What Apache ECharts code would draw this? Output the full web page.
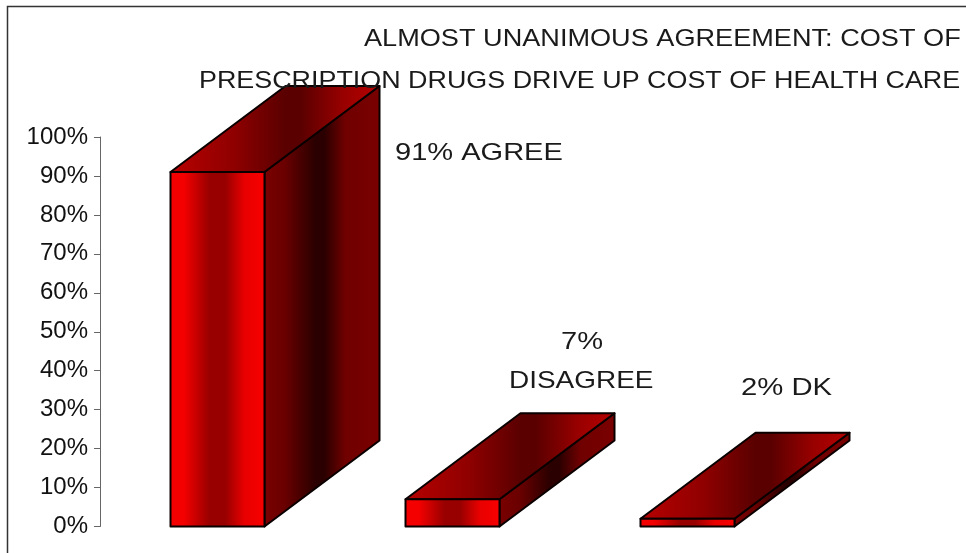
<!DOCTYPE html>
<html><head><meta charset="utf-8">
<style>html,body{margin:0;padding:0;background:#fff}#c{width:966px;height:553px}</style>
<script src="https://cdn.jsdelivr.net/npm/echarts@6/dist/echarts.min.js"></script>
</head><body><div id="c"></div>
<script>
var categories = ['AGREE', 'DISAGREE', 'DK'];
var values = [91, 7, 2];
var titleLines = ['ALMOST UNANIMOUS AGREEMENT: COST OF', 'PRESCRIPTION DRUGS DRIVE UP COST OF HEALTH CARE'];
var dataLabels = ['91% AGREE', '7%', 'DISAGREE', '2% DK'];

var DEPTH_X = 115, DEPTH_Y = 86;
function grad(stops){ return new echarts.graphic.LinearGradient(0,0,1,0,stops.map(function(s){return {offset:s[0],color:s[1]};})); }
var frontFill = grad([[0,'#f40000'],[0.15,'#f40000'],[0.42,'#980000'],[0.58,'#980000'],[0.78,'#e80000'],[1,'#f80000']]);
var sideFill = grad([[0,'#7a0000'],[0.18,'#6a0000'],[0.44,'#2b0000'],[0.52,'#2b0000'],[0.7,'#700000'],[1,'#7a0000']]);
var topFill = grad([[0,'#b80000'],[0.3,'#900000'],[0.55,'#5a0000'],[0.62,'#5a0000'],[0.82,'#980000'],[1,'#b80000']]);
var edge = {stroke:'#0a0000', lineWidth:2, lineJoin:'round'};

function renderBox(params, api){
  var base = api.coord([api.value(0), 0]);
  var top = api.coord([api.value(0), api.value(1)]);
  var w = api.size([1,0])[0]*0.4;
  var x0 = base[0]-w/2, x1 = base[0]+w/2, yb = base[1], yt = top[1];
  var dx = DEPTH_X, dy = DEPTH_Y;
  function poly(pts, fill){ return {type:'polygon', shape:{points:pts}, style:Object.assign({fill:fill}, edge)}; }
  return {type:'group', children:[
    poly([[x1,yb],[x1+dx,yb-dy],[x1+dx,yt-dy],[x1,yt]], sideFill),
    poly([[x0,yt],[x1,yt],[x1+dx,yt-dy],[x0+dx,yt-dy]], topFill),
    poly([[x0,yb],[x1,yb],[x1,yt],[x0,yt]], frontFill)
  ]};
}
function txt(t,x,y,sx,size){
  return {type:'text', x:x, y:y, scaleX:sx, silent:true, z:10,
    style:{text:t, fill:'#1a1a1a', font:'normal '+size+'px "Liberation Sans"', textAlign:'left', textVerticalAlign:'middle'}};
}
var chart = echarts.init(document.getElementById('c'), null, {renderer:'canvas'});
chart.setOption({
  animation:false,
  backgroundColor:'#fff',
  grid:{left:100, top:137, width:705, height:389.5, containLabel:false},
  xAxis:{type:'category', data:categories, axisLine:{show:false}, axisTick:{show:false}, axisLabel:{show:false}},
  yAxis:{type:'value', min:0, max:100, interval:10,
    axisLine:{show:true, lineStyle:{color:'#666', width:1}},
    axisTick:{show:true, length:6, lineStyle:{color:'#666', width:1}},
    splitLine:{show:false},
    axisLabel:{color:'#111', fontFamily:'Liberation Sans', fontSize:24, margin:12, formatter:'{value}%'}},
  series:[{type:'custom', renderItem:renderBox, encode:{x:0,y:1}, clip:false,
    data:values.map(function(v,i){return [i,v];})}],
  graphic:[
    {type:'rect', shape:{x:7.5,y:6.5,width:1000,height:600}, silent:true, style:{fill:'none',stroke:'#333',lineWidth:1.5}},
    txt(titleLines[0],364,39.5,1.13,24),
    txt(titleLines[1],199,81.5,1.12,24),
    txt(dataLabels[0],395,153.5,1.21,24),
    txt(dataLabels[1],561,342.5,1.21,24),
    txt(dataLabels[2],509,381.5,1.165,24),
    txt(dataLabels[3],741,388.5,1.22,24)
  ]
});
</script></body></html>
